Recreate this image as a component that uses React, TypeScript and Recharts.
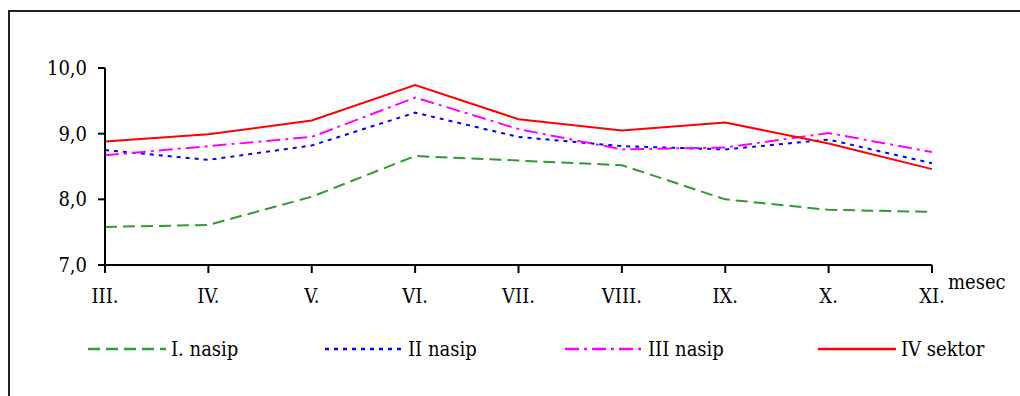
import { LineChart, Line, XAxis, YAxis, Legend } from "recharts";

const months = ["III.", "IV.", "V.", "VI.", "VII.", "VIII.", "IX.", "X.", "XI."];
const nasip1 = [7.58, 7.61, 8.04, 8.66, 8.59, 8.52, 8.0, 7.84, 7.81];
const nasip2 = [8.75, 8.6, 8.82, 9.32, 8.95, 8.81, 8.76, 8.91, 8.55];
const nasip3 = [8.67, 8.81, 8.95, 9.55, 9.07, 8.76, 8.79, 9.01, 8.72];
const sektor4 = [8.88, 8.99, 9.2, 9.74, 9.22, 9.05, 9.17, 8.85, 8.46];
const yTicks = [7, 8, 9, 10];

const series = [
  { key: "n1", name: "I. nasip", color: "#339933", dash: "12 6", values: nasip1 },
  { key: "n2", name: "II nasip", color: "#0000ff", dash: "4 5", values: nasip2 },
  { key: "n3", name: "III nasip", color: "#ff00ff", dash: "14 5 3 5", values: nasip3 },
  { key: "s4", name: "IV sektor", color: "#ff0000", dash: undefined, values: sektor4 },
];

const data = months.map((m, i) => {
  const row: Record<string, string | number> = { month: m };
  series.forEach((s) => (row[s.key] = s.values[i]));
  return row;
});

const textStyle = { fontFamily: '"DejaVu Serif", serif', fontStretch: "condensed" as const };
const legendWidths = [237, 240, 253, 170];

function ChartLegend() {
  return (
    <div style={{ ...textStyle, display: "flex", fontSize: 20, color: "#000", lineHeight: "22px" }}>
      {series.map((s, i) => (
        <div key={s.key} style={{ width: legendWidths[i], display: "flex", alignItems: "center" }}>
          <svg width={78} height={10} style={{ marginRight: 5 }}>
            <line x1={0} y1={5} x2={78} y2={5} stroke={s.color} strokeWidth={2.5} strokeDasharray={s.dash} />
          </svg>
          <span>{s.name}</span>
        </div>
      ))}
    </div>
  );
}

function MesecLabel(props: any) {
  const vb = props.viewBox || {};
  return (
    <text x={vb.x + vb.width + 16} y={vb.y + 24} style={textStyle} fontSize={20} fill="#000">
      mesec
    </text>
  );
}

export default function App() {
  return (
    <div style={{ position: "fixed", left: 0, top: 0, width: 1020, height: 396, overflow: "hidden", background: "#fff" }}>
      <div
        style={{
          position: "absolute",
          left: 8,
          top: 10,
          width: 1200,
          height: 600,
          borderLeft: "2px solid #222",
          borderTop: "2px solid #222",
        }}
      />
      <div style={{ position: "absolute", left: 0, top: 0 }}>
        <LineChart width={1020} height={396} data={data} margin={{ top: 68, right: 88, bottom: 0, left: 0 }}>
          <XAxis
            dataKey="month"
            axisLine={{ stroke: "#000", strokeWidth: 2 }}
            tickLine={{ stroke: "#000", strokeWidth: 2 }}
            tickSize={8}
            tickMargin={16}
            height={60}
            interval={0}
            tick={{ style: textStyle, fontSize: 20, fill: "#000" }}
            label={<MesecLabel />}
          />
          <YAxis
            domain={[7, 10]}
            ticks={yTicks}
            width={105}
            axisLine={{ stroke: "#000", strokeWidth: 2 }}
            tickLine={{ stroke: "#000", strokeWidth: 2 }}
            tickSize={7}
            tickMargin={11}
            tickFormatter={(v: number) => v.toFixed(1).replace(".", ",")}
            tick={{ style: textStyle, fontSize: 20, fill: "#000" }}
          />
          <Legend
            content={<ChartLegend />}
            wrapperStyle={{ left: 88, top: 338, bottom: "auto", height: 71, width: 900 }}
          />
          {series.map((s) => (
            <Line
              key={s.key}
              type="linear"
              dataKey={s.key}
              name={s.name}
              stroke={s.color}
              strokeWidth={2}
              strokeDasharray={s.dash}
              dot={false}
              activeDot={false}
              isAnimationActive={false}
            />
          ))}
        </LineChart>
      </div>
    </div>
  );
}
